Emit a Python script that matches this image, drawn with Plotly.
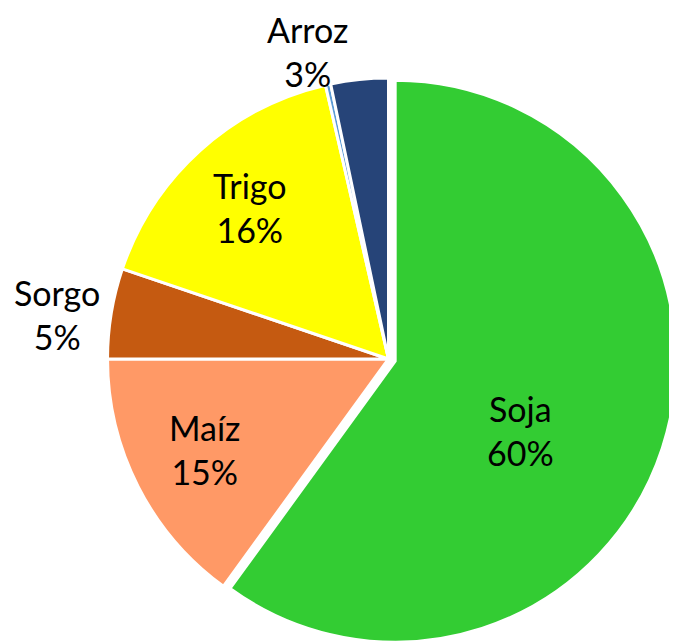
import plotly.graph_objects as go

labels = ["Soja", "Maíz", "Sorgo", "Trigo", "Otros", "Arroz"]
values = [60.0, 15.0, 5.2, 16.2, 0.3, 3.3]
colors = ["#33CC33", "#FF9966", "#C55A11", "#FFFF00", "#5B9BD5", "#264478"]
pulls = [0.025, 0, 0, 0, 0, 0]
show_label = [True, True, True, True, False, True]
# label block centres in page pixels
label_px = [(520, 431), (205, 450), (57, 315), (250, 208), None, (307, 53)]

W, H = 677, 643
L, R, T, B = 90, 6, 63, 4
OFF_X, OFF_Y = 8, 9  # page offset of the plot div

fig = go.Figure(go.Pie(
    labels=labels, values=values, sort=False, direction="clockwise", rotation=0,
    marker=dict(colors=colors, line=dict(color="white", width=3)),
    pull=pulls, textinfo="none",
    showlegend=False, hoverinfo="label+percent",
))

total = sum(values)
annotations = []
for lab, val, show, pos in zip(labels, values, show_label, label_px):
    if not show:
        continue
    px, py = pos[0] - OFF_X, pos[1] - OFF_Y
    annotations.append(dict(
        text=f"{lab}<br>{round(val / total * 100)}%",
        x=(px - L) / (W - L - R), y=1 - (py - T) / (H - T - B),
        xref="paper", yref="paper", xanchor="center", yanchor="middle",
        showarrow=False, align="center",
        font=dict(family="Lato", size=34, color="black"),
    ))

fig.update_layout(
    width=W, height=H,
    margin=dict(l=L, r=R, t=T, b=B),
    paper_bgcolor="white", plot_bgcolor="white",
    annotations=annotations,
)
fig.write_html("out.html")
